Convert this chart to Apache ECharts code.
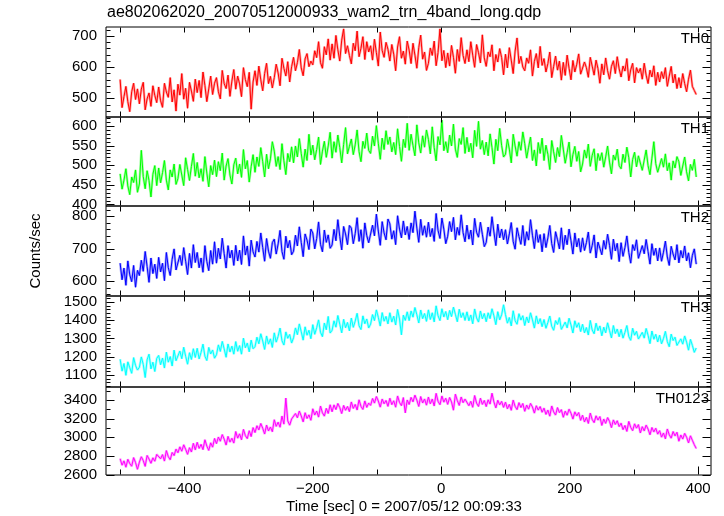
<!DOCTYPE html>
<html><head><meta charset="utf-8">
<script src="https://cdn.jsdelivr.net/npm/echarts@6/dist/echarts.min.js"></script>
<style>html,body{margin:0;padding:0;background:#fff}#c{width:724px;height:516px}</style>
</head><body><div id="c"></div>
<script>
// Time grid: bins start at -500 s, 3 s apart
const tStart = -500, tStep = 3;

const th0 = [
560,470,505,538,489,457,521,548,496,530,
482,529,551,463,498,517,474,540,509,486,
536,492,471,548,520,503,566,488,527,459,
545,510,579,497,532,468,551,523,490,561,
518,557,502,584,541,489,530,571,512,548,
566,521,498,589,547,531,574,506,555,592,
529,571,546,505,598,560,537,583,465,552,
588,541,603,559,524,579,612,547,570,533,
566,609,581,540,628,596,571,617,552,601,
631,588,614,656,597,572,626,643,601,619,
607,652,630,681,614,596,665,639,690,622,
674,628,701,655,619,686,722,643,668,637,
610,676,652,715,633,660,697,624,681,648,
668,622,689,646,603,712,653,631,679,657,
619,672,641,588,664,697,628,651,609,683,
654,611,676,638,596,662,702,625,648,589,
612,661,637,683,604,646,722,620,653,598,
645,603,669,631,580,656,618,694,637,611,
655,617,681,638,599,672,646,613,703,629,
602,648,633,671,588,640,616,659,630,575,
641,597,662,622,579,651,693,611,634,600,
588,629,612,655,571,618,643,597,666,605,
627,584,611,648,566,602,635,590,619,558,
615,573,638,596,559,621,584,609,642,577,
581,616,598,567,631,603,574,622,595,548,
610,575,629,588,561,602,620,579,633,594,
568,603,587,627,556,591,612,549,598,581,
596,561,612,574,547,590,568,604,541,583,
552,585,563,598,538,571,602,549,577,531,
566,533,579,547,521,561,590,538,525,512];

const th1 = [
478,439,462,491,447,425,470,456,488,431,
452,538,471,440,486,461,419,477,499,448,
493,455,481,512,462,437,488,470,503,451,
466,502,475,448,519,489,461,497,530,472,
507,468,491,459,522,480,445,499,476,513,
471,509,486,531,462,498,517,475,452,501,
518,478,503,469,540,491,512,457,496,527,
482,521,497,545,509,470,528,491,516,560,
536,497,522,489,555,511,476,530,509,547,
506,549,521,568,530,495,541,512,579,526,
551,514,540,572,502,536,561,520,549,584,
518,560,533,577,545,506,553,596,529,548,
567,527,552,590,535,509,561,543,582,538,
530,574,549,601,556,515,569,540,588,553,
572,534,558,527,593,548,510,566,545,607,
538,579,550,524,603,557,531,575,546,590,
566,529,598,545,511,573,552,615,537,560,
532,577,549,605,541,520,568,553,596,530,
571,534,556,519,589,548,612,541,563,527,
559,524,580,545,503,566,537,594,550,521,
528,567,541,506,579,549,523,560,538,585,
555,518,546,572,512,539,498,558,530,569,
512,551,528,489,563,534,507,545,522,576,
541,505,532,559,496,527,548,510,535,483,
503,539,518,554,497,525,542,486,530,512,
532,495,521,549,508,478,526,513,541,499,
491,528,507,546,519,470,515,533,496,524,
522,487,513,539,499,476,518,560,504,482,
478,517,495,529,486,506,462,511,493,522,
509,474,498,521,483,460,502,487,515,470];

const th2 = [
655,604,640,587,662,619,598,648,581,633,
617,664,630,691,645,596,671,623,652,608,
673,628,655,601,688,641,617,667,699,634,
632,679,648,703,661,620,685,640,712,657,
688,641,671,627,709,660,632,694,652,721,
655,701,668,732,684,640,709,671,695,648,
710,662,695,651,739,680,708,646,726,690,
674,722,689,748,703,661,731,692,670,718,
729,683,714,756,691,667,738,702,725,681,
692,741,708,767,719,675,745,726,697,760,
748,699,731,782,713,690,757,719,742,701,
711,759,724,789,737,696,768,745,712,771,
763,715,746,795,722,758,701,779,740,718,
721,772,739,806,754,710,783,748,727,791,
776,729,755,712,801,760,733,785,742,768,
728,779,749,815,763,719,790,741,770,735,
781,737,762,722,808,756,731,794,760,715,
738,783,752,796,727,765,741,804,749,721,
772,729,757,711,793,750,735,781,744,706,
719,766,738,798,751,709,775,733,760,727,
758,714,745,780,722,698,764,737,713,771,
709,752,726,789,741,700,758,719,743,690,
746,703,733,771,715,688,752,727,699,764,
697,741,712,760,724,683,748,705,731,689,
733,694,718,751,686,709,742,671,720,701,
681,725,698,744,710,667,729,693,716,660,
718,676,703,739,688,655,712,694,727,670,
667,709,684,728,691,652,715,679,701,662,
702,661,689,723,674,648,707,683,665,712,
656,694,671,708,662,687,641,679,699,652];

const th3 = [
1186,1121,1163,1098,1172,1140,1109,1195,1152,1127,
1142,1199,1158,1086,1183,1214,1133,1170,1119,1191,
1207,1156,1193,1138,1225,1170,1201,1149,1236,1178,
1174,1231,1189,1252,1203,1159,1222,1185,1244,1196,
1246,1188,1224,1269,1203,1179,1251,1215,1237,1192,
1211,1265,1229,1284,1243,1197,1270,1226,1258,1214,
1283,1230,1261,1214,1302,1249,1275,1227,1291,1244,
1255,1307,1271,1326,1286,1240,1314,1269,1298,1251,
1331,1280,1312,1357,1288,1264,1336,1301,1322,1275,
1304,1358,1321,1380,1337,1291,1364,1318,1345,1299,
1376,1323,1359,1402,1334,1310,1385,1348,1421,1330,
1345,1397,1362,1426,1378,1331,1405,1359,1388,1342,
1412,1361,1395,1438,1370,1349,1424,1381,1407,1358,
1379,1431,1398,1457,1416,1368,1442,1395,1421,1380,
1441,1390,1422,1374,1459,1407,1320,1428,1399,1446,
1398,1451,1417,1470,1430,1385,1456,1409,1437,1394,
1457,1404,1441,1391,1479,1425,1398,1463,1418,1448,
1403,1454,1420,1472,1433,1392,1460,1415,1441,1399,
1446,1397,1429,1381,1462,1413,1390,1451,1408,1437,
1392,1441,1409,1463,1424,1376,1447,1402,1430,1485,
1431,1384,1415,1369,1452,1398,1378,1436,1401,1425,
1371,1418,1386,1441,1402,1357,1424,1380,1409,1365,
1404,1356,1388,1423,1367,1345,1398,1377,1414,1350,
1342,1390,1358,1411,1374,1330,1397,1361,1386,1338,
1378,1331,1360,1319,1399,1347,1326,1384,1343,1369,
1315,1362,1331,1386,1344,1303,1371,1327,1352,1310,
1350,1302,1334,1371,1311,1290,1356,1318,1339,1297,
1287,1334,1302,1355,1318,1272,1341,1296,1323,1281,
1318,1271,1300,1339,1283,1255,1324,1289,1307,1262,
1252,1298,1269,1314,1280,1236,1295,1262,1224,1248];

const th0123 = [
2771,2702,2748,2680,2765,2719,2691,2783,2730,2658,
2735,2792,2751,2689,2806,2768,2722,2781,2744,2817,
2832,2771,2815,2746,2858,2793,2760,2838,2805,2874,
2835,2898,2851,2920,2872,2818,2889,2843,2936,2866,
2947,2881,2925,2868,2974,2906,2860,2941,2895,2988,
2932,3003,2958,3029,2981,2917,3010,2949,2990,2938,
3062,2991,3037,2974,3085,3018,2986,3071,3008,3104,
3051,3124,3079,3148,3097,3035,3131,3068,3110,3060,
3188,3117,3162,3108,3227,3141,3420,3175,3130,3196,
3182,3254,3209,3281,3228,3165,3263,3201,3240,3182,
3305,3238,3281,3216,3334,3262,3227,3310,3255,3348,
3273,3347,3296,3362,3318,3254,3341,3289,3330,3275,
3378,3309,3352,3292,3401,3331,3298,3389,3320,3366,
3342,3415,3366,3436,3388,3323,3409,3359,3394,3331,
3418,3349,3391,3322,3442,3373,3338,3425,3261,3399,
3351,3427,3379,3451,3398,3330,3436,3367,3410,3344,
3430,3358,3409,3335,3470,3385,3349,3442,3376,3418,
3352,3426,3378,3290,3461,3393,3341,3431,3370,3409,
3409,3338,3385,3321,3447,3365,3330,3418,3352,3394,
3329,3401,3355,3472,3378,3314,3396,3347,3384,3320,
3376,3305,3352,3289,3398,3331,3296,3371,3318,3362,
3278,3345,3301,3362,3324,3259,3338,3291,3329,3268,
3312,3245,3291,3226,3335,3272,3238,3318,3264,3296,
3214,3280,3236,3301,3258,3195,3272,3229,3265,3181,
3236,3165,3213,3148,3259,3191,3157,3230,3184,3222,
3127,3195,3149,3211,3170,3104,3186,3138,3177,3115,
3151,3082,3127,3063,3170,3106,3071,3144,3098,3136,
3046,3114,3069,3130,3089,3027,3105,3058,3097,3034,
3071,3002,3046,2984,3089,3027,2991,3062,3015,3054,
2958,3025,2981,3042,3001,2940,3016,2968,2921,2880];

const panelNames = ['TH0','TH1','TH2','TH3','TH0123'];
const xTickValues = [-500,-400,-300,-200,-100,0,100,200,300,400];
const xLabelValues = [-400,-200,0,200,400];
const yLabelValues = [[500,600,700],[400,450,500,550,600],[600,700,800],[1100,1200,1300,1400,1500],[2600,2800,3000,3200,3400]];
const yMinorValues = [
  [460,480,520,540,560,580,620,640,660,680,720],
  [410,420,430,440,460,470,480,490,510,520,530,540,560,570,580,590,610,620],
  [560,580,620,640,660,680,720,740,760,780,820],
  [1040,1060,1080,1120,1140,1160,1180,1220,1240,1260,1280,1320,1340,1360,1380,1420,1440,1460,1480,1520],
  [2700,2900,3100,3300,3500]
];
const yRanges = [[440,728],[396,623],[554,831],[1034,1533],[2597,3538]];

const seriesData = [th0, th1, th2, th3, th0123];
const colors = ['#ff0000','#00ff00','#0000ff','#00ffff','#ff00ff'];
const halos = ['rgba(255,0,0,0.35)','rgba(0,255,0,0.35)','rgba(0,0,255,0.35)','rgba(0,255,255,0.35)','rgba(255,0,255,0.35)'];
const tops = [27,117,206,296,387];
const heights = [90,89,90,91,88];
const FONT = '"Liberation Sans", Arial, Helvetica, sans-serif';
const XMIN = -522, XMAX = 420;
const fmtX = v => String(v).replace('-', '\u2212');
const fmtY = v => String(v);

// tick drawing through the axis scales (api.coord)
function yTickItem(params, api) {
  const cs = params.coordSys;
  const v = api.value(0), len = api.value(1);
  const y = Math.round(api.coord([0, v])[1]) + 0.5;
  const xl = Math.round(cs.x) + 0.5, xr = Math.round(cs.x + cs.width) - 0.5;
  return {type:'group', children:[
    {type:'line', shape:{x1:xl, y1:y, x2:xl + len, y2:y}, style:{stroke:'#000', lineWidth:1}},
    {type:'line', shape:{x1:xr - len, y1:y, x2:xr, y2:y}, style:{stroke:'#000', lineWidth:1}}]};
}
function xTickItem(params, api) {
  const cs = params.coordSys;
  const t = api.value(0), lenTop = api.value(1), lenBot = api.value(2);
  const x = Math.round(api.coord([t, 0])[0]) + 0.5;
  const yt = Math.round(cs.y) + 0.5, yb = Math.round(cs.y + cs.height) - 0.5;
  return {type:'group', children:[
    {type:'line', shape:{x1:x, y1:yt, x2:x, y2:yt + lenTop}, style:{stroke:'#000', lineWidth:1}},
    {type:'line', shape:{x1:x, y1:yb - lenBot, x2:x, y2:yb}, style:{stroke:'#000', lineWidth:1}}]};
}

const grids = [], xAxes = [], yAxes = [], series = [], graphics = [];
for (let i = 0; i < 5; i++) {
  const last = i === 4;
  grids.push({left:106, right:13, top:tops[i], height:heights[i], show:true, borderColor:'#000', borderWidth:1, backgroundColor:'transparent'});
  xAxes.push({type:'value', gridIndex:i, min:XMIN, max:XMAX, position:'bottom',
    axisLine:{show:false, onZero:false}, splitLine:{show:false}, axisTick:{show:false},
    axisLabel:{show:last, customValues:xLabelValues, formatter:fmtX, color:'#000', fontSize:15, fontFamily:FONT, margin:6}});
  const [ymin, ymax] = yRanges[i];
  yAxes.push({type:'value', gridIndex:i, min:ymin, max:ymax, position:'left',
    axisLine:{show:false, onZero:false}, splitLine:{show:false}, axisTick:{show:false},
    axisLabel:{show:true, customValues:yLabelValues[i], formatter:fmtY, color:'#000', fontSize:15, fontFamily:FONT, margin:9}});
  const pts = seriesData[i].map((v, k) => [tStart + k * tStep, v]);
  series.push({type:'line', xAxisIndex:i, yAxisIndex:i, data:pts, showSymbol:false, silent:true,
    lineStyle:{color:halos[i], width:2.5}, z:2});
  series.push({type:'line', xAxisIndex:i, yAxisIndex:i, data:pts, showSymbol:false, silent:true,
    lineStyle:{color:colors[i], width:1}, z:3});
  const yTicks = yLabelValues[i].map(v => [v, 8]).concat(yMinorValues[i].map(v => [v, 4]));
  series.push({type:'custom', xAxisIndex:i, yAxisIndex:i, data:yTicks, renderItem:yTickItem, silent:true, clip:false, z:5,
    encode:{x:-1, y:0}});
  const xTicks = xTickValues.map(t => [t, 5, (last && xLabelValues.includes(t)) ? 8 : 5]);
  series.push({type:'custom', xAxisIndex:i, yAxisIndex:i, data:xTicks, renderItem:xTickItem, silent:true, clip:false, z:5,
    encode:{x:0, y:-1}});
  graphics.push({type:'text', x:709, y:tops[i]+12, style:{text:panelNames[i], fill:'#000', fontSize:15, fontFamily:FONT, textAlign:'right', textVerticalAlign:'middle'}, z:10});
}
graphics.push({type:'text', x:107, y:13, style:{text:'ae802062020_20070512000933_wam2_trn_4band_long.qdp', fill:'#000', fontSize:16, fontFamily:FONT, textAlign:'left', textVerticalAlign:'middle'}});
graphics.push({type:'text', x:36, y:251, rotation:Math.PI/2, style:{text:'Counts/sec', fill:'#000', fontSize:15, fontFamily:FONT, textAlign:'center', textVerticalAlign:'middle'}});
graphics.push({type:'text', x:404, y:507, style:{text:'Time [sec] 0 = 2007/05/12 00:09:33', fill:'#000', fontSize:15, fontFamily:FONT, textAlign:'center', textVerticalAlign:'middle'}});

const chart = echarts.init(document.getElementById('c'), null, {renderer:'canvas'});
chart.setOption({animation:false, backgroundColor:'#fff', grid:grids, xAxis:xAxes, yAxis:yAxes, series:series, graphic:graphics});
</script></body></html>
